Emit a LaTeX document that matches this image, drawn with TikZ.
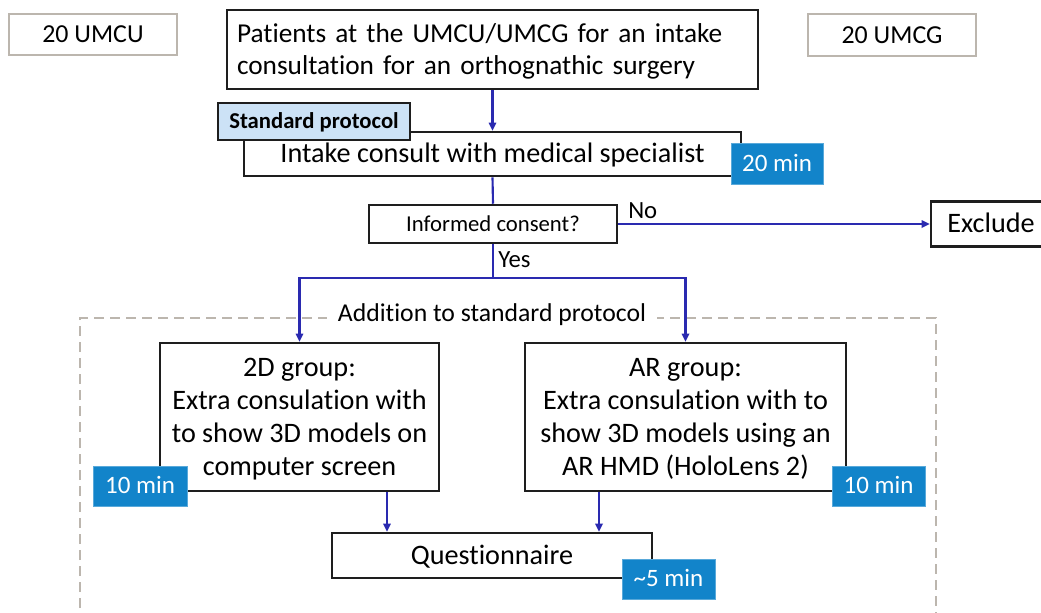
\documentclass[tikz,border=0pt]{standalone}
\usepackage{fontspec}
\setmainfont{Carlito}[Ligatures=NoCommon]
\usetikzlibrary{arrows.meta,calc}

\definecolor{flowblue}{RGB}{42,42,176}
\definecolor{timeblue}{RGB}{18,132,202}
\definecolor{protblue}{RGB}{204,226,246}
\definecolor{framegray}{RGB}{188,182,174}
\definecolor{boxblack}{RGB}{30,30,30}

% sizes are given in pixels: 1px = 0.75pt
\newcommand{\pxs}[1]{#1*0.75pt}
\newcommand{\fs}[2]{\fontsize{\dimexpr #1pt*3/4\relax}{\dimexpr #2pt*3/4\relax}\selectfont}

\tikzset{
  stepbox/.style={draw=boxblack, line width=1.9pt, fill=white, inner sep=0pt, align=center},
  sitebox/.style={draw=framegray, line width=1.8pt, fill=white, inner sep=0pt, align=center},
  timebox/.style={fill=timeblue, draw=timeblue!70!white, line width=0.6pt, text=white, inner sep=0pt,
    align=center, font=\fs{25}{30}, text height=\pxs{15.8}, text depth=0pt},
  % main text, centred on its capitals
  big/.style={font=\fs{28.2}{33.2}, text height=\pxs{17.8}, text depth=0pt},
  flow/.style={draw=flowblue, line width=1.6pt},
  flowarrow/.style={flow, -{Triangle[length=6pt,width=5.5pt]}},
}

\begin{document}
\begin{tikzpicture}[x=0.75pt, y=-0.75pt]
\useasboundingbox (0,0) rectangle (1041,612);

% centre labels
\node[sitebox, minimum width=\pxs{168}, minimum height=\pxs{41}, font=\fs{25.9}{30},
  text height=\pxs{16.4}, text depth=0pt] (umcu) at (93,34.5) {20 UMCU};
\node[sitebox, minimum width=\pxs{168}, minimum height=\pxs{42}, font=\fs{25.9}{30},
  text height=\pxs{16.4}, text depth=0pt] (umcg) at (892,35) {20 UMCG};

% intake flow
\node[stepbox, text width=\pxs{511}, inner xsep=\pxs{10}, minimum height=\pxs{79}, align=left,
  font=\fs{27.3}{32}, text height=\pxs{17.3}, text depth=\pxs{32}] (pat) at (492.5,49.5)
  {Patients at the UMCU/UMCG for an intake\\consultation for an orthognathic surgery};
\node[stepbox, big, minimum width=\pxs{497}, minimum height=\pxs{44}] (intake) at (492.5,154)
  {Intake consult with medical specialist};
\node[stepbox, fill=protblue, minimum width=\pxs{192}, minimum height=\pxs{37},
  font=\bfseries\fs{22.7}{27}, text height=\pxs{14.4}, text depth=0pt] (std) at (314,121.5) {Standard protocol};
\node[timebox, minimum width=\pxs{92}, minimum height=\pxs{41}] (t20) at (777,163.5) {20 min};

\node[stepbox, minimum width=\pxs{248}, minimum height=\pxs{38}, font=\fs{22.7}{27},
  text height=\pxs{14.4}, text depth=0pt] (ic) at (493,224) {Informed consent?};
\node[stepbox, big, minimum width=\pxs{120}, minimum height=\pxs{45}] (excl) at (991,224) {Exclude};

% addition to the standard protocol
\draw[framegray, line width=1.8pt, dash pattern=on 7.5pt off 4.5pt] (80,640) -- (80,318) -- (936,318) -- (936,640);
\node[fill=white, inner xsep=\pxs{11}, inner ysep=\pxs{4}, font=\fs{25.7}{30},
  text height=\pxs{16.2}, text depth=0pt] (add) at (492,313) {Addition to standard protocol};

% the two groups (four lines each: the text box is measured from the last baseline)
\node[stepbox, big, text height=\pxs{117.4}, minimum width=\pxs{279}, minimum height=\pxs{148}] (g2d) at (299.5,417)
  {2D group:\\Extra consulation with\\to show 3D models on\\computer screen};
\node[stepbox, big, text height=\pxs{117.4}, minimum width=\pxs{321}, minimum height=\pxs{148}] (gar) at (685.5,417)
  {AR group:\\Extra consulation with to\\show 3D models using an\\AR HMD (HoloLens 2)};
\node[timebox, minimum width=\pxs{94}, minimum height=\pxs{40}] (t10a) at (140,486) {10 min};
\node[timebox, minimum width=\pxs{93}, minimum height=\pxs{40}] (t10b) at (878.5,486) {10 min};

\node[stepbox, big, minimum width=\pxs{320}, minimum height=\pxs{45}] (quest) at (492,555.5) {Questionnaire};
\node[timebox, minimum width=\pxs{93}, minimum height=\pxs{40}] (t5) at (668.5,579) {\textasciitilde5 min};

% connectors
\coordinate (split) at (493,278);
\coordinate (ql) at (387,0);
\coordinate (qr) at (599,0);

\draw[flowarrow] (pat.south) -- (intake.north);
\draw[flow] (intake.south) -- (ic.north);
\draw[flowarrow] (ic.east) -- (ic.east -| excl.west);
\draw[flow] (ic.south) -- (split);
\draw[flowarrow] (split) -| (g2d.north);
\draw[flowarrow] (split) -| (gar.north);
\draw[flowarrow] (g2d.south -| ql) -- (quest.north -| ql);
\draw[flowarrow] (gar.south -| qr) -- (quest.north -| qr);

% branch labels
\node[font=\fs{24.7}{29}, anchor=base west, inner sep=0pt] (nolab) at (628,218) {No};
\node[font=\fs{24.7}{29}, anchor=base west, inner sep=0pt] (yeslab) at (498,267) {Yes};
\end{tikzpicture}
\end{document}
